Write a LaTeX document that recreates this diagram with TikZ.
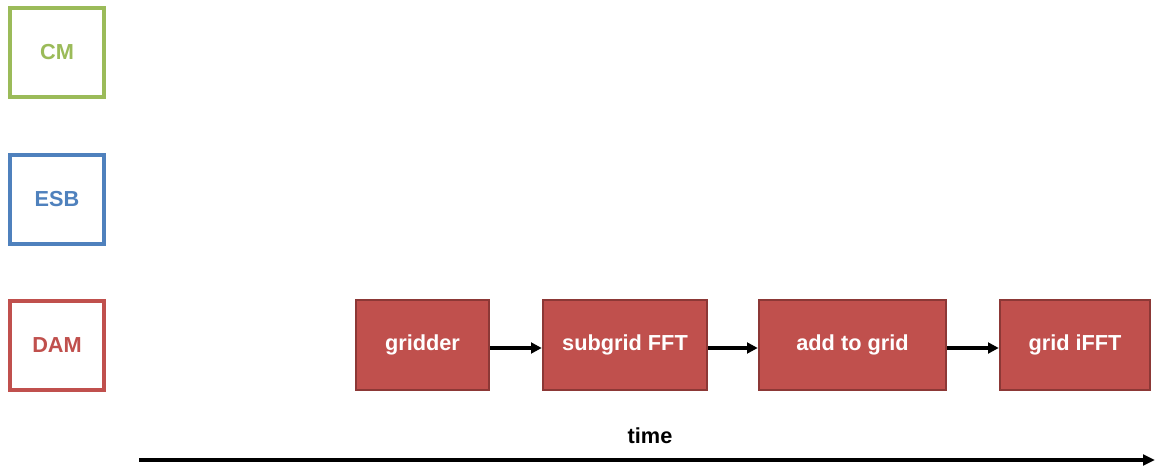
\documentclass[tikz,border=0pt]{standalone}
\usepackage{fontspec}
\setmainfont{Liberation Sans}
\usetikzlibrary{arrows.meta}
\definecolor{cmgreen}{HTML}{9BBB59}
\definecolor{esbblue}{HTML}{4F81BD}
\definecolor{damred}{HTML}{C0504D}
\definecolor{damedge}{HTML}{8C3836}
\tikzset{
  lane/.style={draw=#1, line width=2.4pt, fill=white, text=#1, font=\fontsize{16.3}{19}\selectfont\bfseries, minimum width=70.5pt, minimum height=66.75pt, inner sep=0pt},
  task/.style={draw=damedge, line width=1.9pt, fill=damred, text=white, font=\fontsize{16.3}{19}\selectfont\bfseries, minimum height=67.5pt, inner sep=0pt},
  flow/.style={-{Triangle[length=8pt,width=8pt]}, line width=2.4pt, black},
}
\begin{document}
\begin{tikzpicture}[x=0.75pt,y=-0.75pt]
\useasboundingbox (0,0) rectangle (1155,466);
\node[lane=cmgreen] (cm) at (57,52.5) {CM};
\node[lane=esbblue] (esb) at (57,199.5) {ESB};
\node[lane=damred] (dam) at (57,345.5) {DAM};
\node[task, minimum width=99.75pt] (g) at (422.5,345) {gridder};
\node[task, minimum width=123pt] (s) at (625,345) {subgrid FFT};
\node[task, minimum width=140.25pt] (a) at (852.5,345) {add to grid};
\node[task, minimum width=112.5pt] (f) at (1075,345) {grid iFFT};
\draw[flow] ([yshift=-2.25pt]g.east) -- ([yshift=-2.25pt]s.west);
\draw[flow] ([yshift=-2.25pt]s.east) -- ([yshift=-2.25pt]a.west);
\draw[flow] ([yshift=-2.25pt]a.east) -- ([yshift=-2.25pt]f.west);
\node[font=\fontsize{16.3}{19}\selectfont\bfseries] (t) at (650,436) {time};
\coordinate (t0) at (139,460);
\coordinate (t1) at (1155,460);
\draw[-{Triangle[length=9pt,width=8pt]}, line width=3pt] (t0) -- (t1);
\end{tikzpicture}
\end{document}
